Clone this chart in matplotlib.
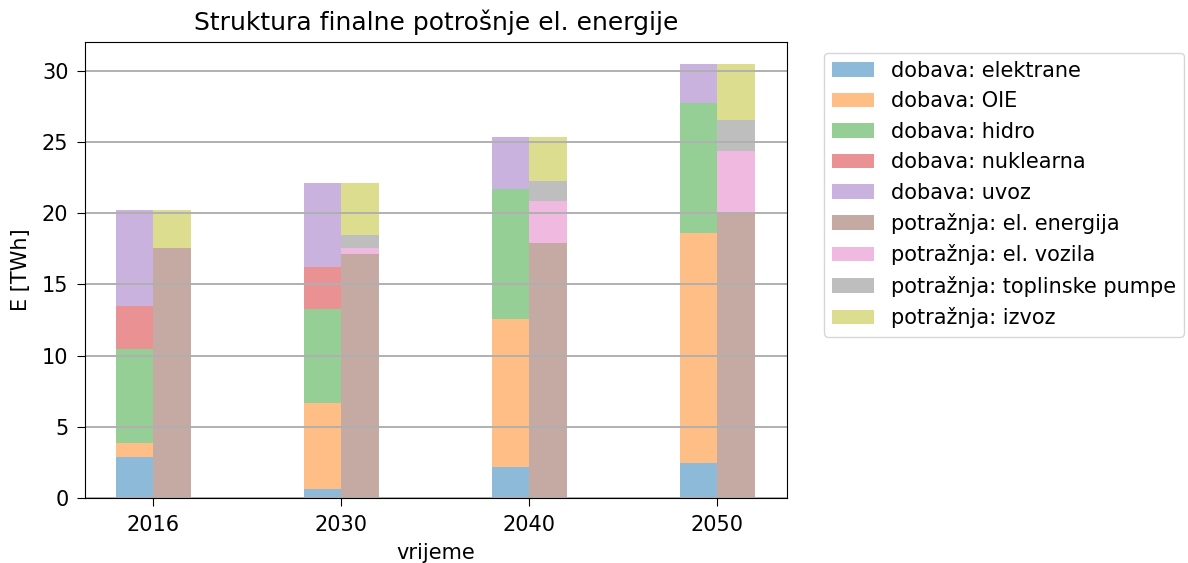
import matplotlib
matplotlib.use("Agg")
import matplotlib.pyplot as plt
import numpy as np

years = ["2016", "2030", "2040", "2050"]

supply_labels = ["dobava: elektrane", "dobava: OIE", "dobava: hidro",
                 "dobava: nuklearna", "dobava: uvoz"]
elektrane = [2.86, 0.63, 2.17, 2.45]
oie = [1.00, 6.04, 10.40, 16.18]
hidro = [6.63, 6.63, 9.12, 9.07]
nuklearna = [2.97, 2.95, 0.0, 0.0]
uvoz = [6.79, 5.90, 3.67, 2.80]

demand_labels = ["potražnja: el. energija", "potražnja: el. vozila",
                 "potražnja: toplinske pumpe", "potražnja: izvoz"]
el_energija = [17.58, 17.13, 17.90, 20.00]
el_vozila = [0.0, 0.45, 2.93, 4.33]
pumpe = [0.0, 0.87, 1.44, 2.20]
izvoz = [2.67, 3.70, 3.09, 3.97]

plt.rcParams['font.size'] = 15
plt.rcParams['xtick.major.size'] = 5.5
plt.rcParams['ytick.major.size'] = 5.5
plt.rcParams['xtick.major.pad'] = 6.5
plt.rcParams['ytick.major.pad'] = 6.5
fig = plt.figure(figsize=(11.88, 5.63), dpi=100)
ax = fig.add_axes([0.0716, 0.1155, 0.5909, 0.8095])

colors = plt.get_cmap("tab10").colors
x = np.arange(len(years))
w = 0.2

bottom = np.zeros(len(years))
for i, (lab, vals) in enumerate(zip(supply_labels, [elektrane, oie, hidro, nuklearna, uvoz])):
    ax.bar(x - w / 2, vals, w, bottom=bottom, color=colors[i], alpha=0.5, label=lab)
    bottom += np.array(vals)

bottom = np.zeros(len(years))
for j, (lab, vals) in enumerate(zip(demand_labels, [el_energija, el_vozila, pumpe, izvoz])):
    ax.bar(x + w / 2, vals, w, bottom=bottom, color=colors[5 + j], alpha=0.5, label=lab)
    bottom += np.array(vals)

ax.set_xticks(x)
ax.set_xticklabels(years)
ax.set_xlim(-0.362, 3.372)
ax.set_ylim(0, 32.0)
ax.yaxis.grid(True, color="#b0b0b0", linewidth=1.4)
ax.set_xlabel("vrijeme", labelpad=6)
ax.set_ylabel("E [TWh]", labelpad=8)
ax.set_title("Struktura finalne potrošnje el. energije", fontsize=18, pad=9)
ax.legend(loc="upper left", bbox_to_anchor=(1.038, 1.0))

fig.savefig("out.png", dpi=100)
